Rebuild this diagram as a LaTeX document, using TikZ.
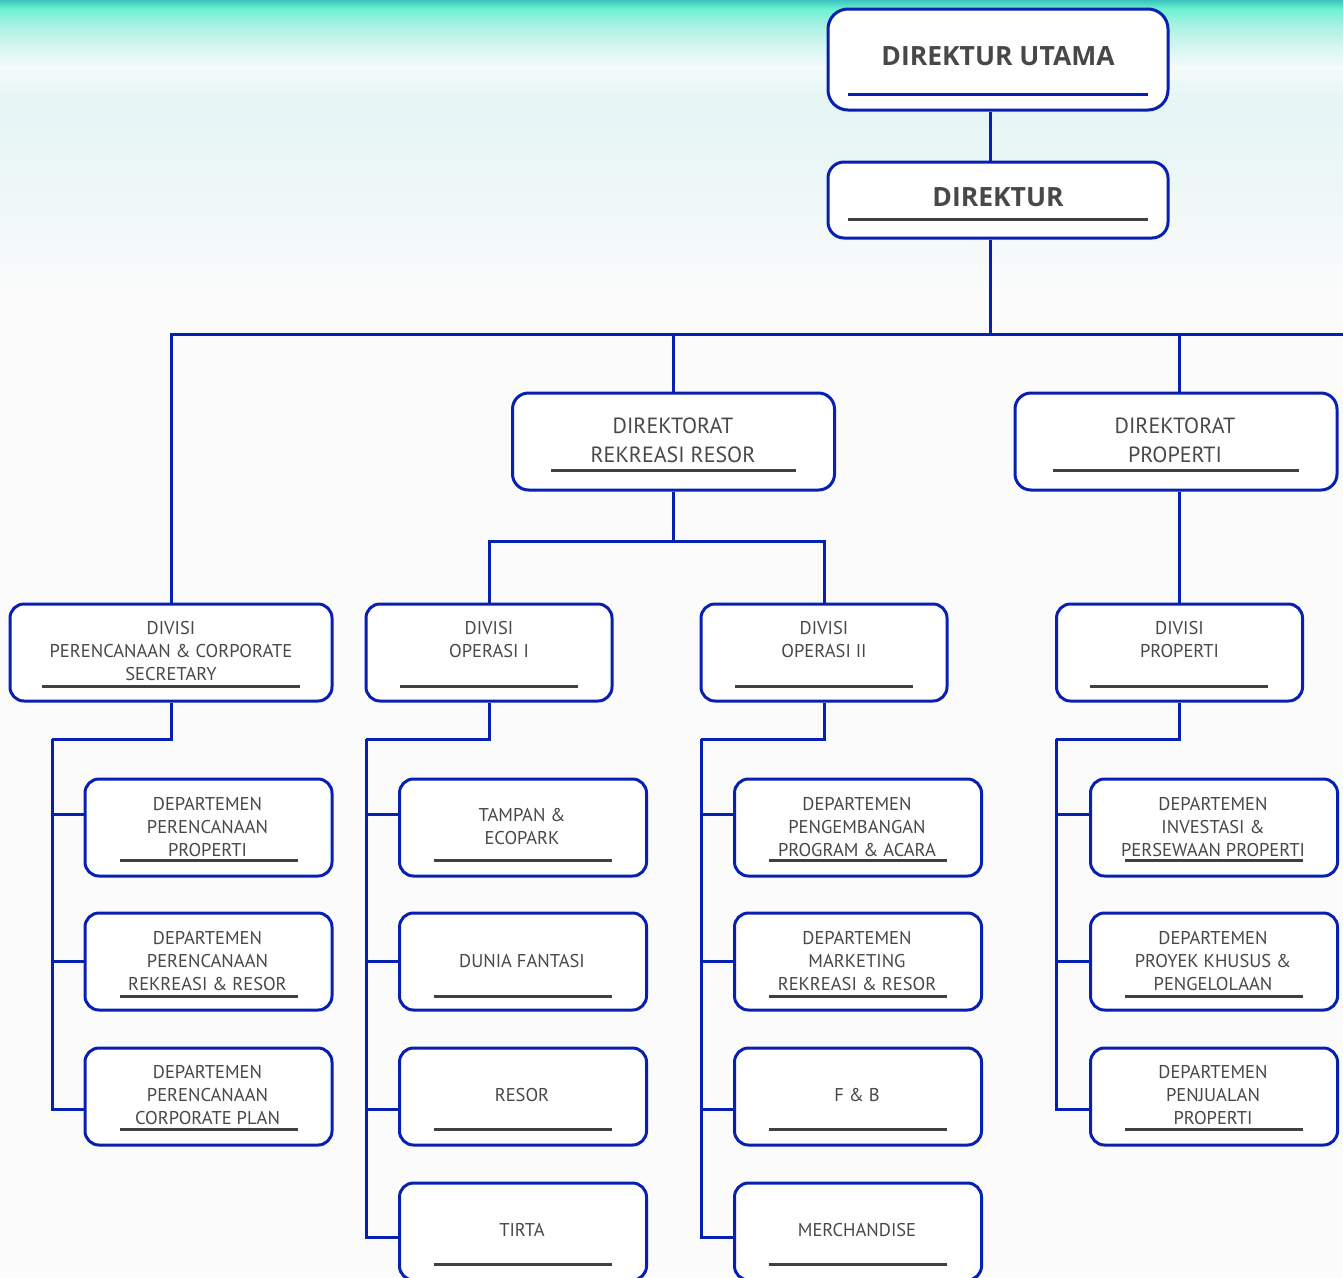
\documentclass[tikz,border=0pt]{standalone}
\usepackage{fontspec}
\setmainfont{PT Sans}
\newfontfamily\boldlabel{Open Sans}
\definecolor{lineblue}{RGB}{8,32,178}
\definecolor{ulgray}{RGB}{64,64,64}
\definecolor{txtgray}{RGB}{72,72,72}
\definecolor{bgA}{RGB}{60,196,190}
\definecolor{bgB}{RGB}{108,242,210}
\definecolor{bgC}{RGB}{165,240,226}
\definecolor{bgD}{RGB}{208,245,238}
\definecolor{bgE}{RGB}{244,251,250}
\definecolor{bgF}{RGB}{228,245,244}
\definecolor{bgG}{RGB}{239,247,247}
\definecolor{bgH}{RGB}{251,251,251}
\tikzset{
  box/.style={draw=lineblue, line width=3pt, rounded corners=14pt, fill=white, inner sep=0pt},
  conn/.style={draw=lineblue, line width=3pt},
  uline/.style={draw=ulgray, line width=3pt},
  small/.style={font=\fontsize{18.5}{23}\selectfont, text=txtgray, align=center, inner sep=0pt},
  midtxt/.style={font=\fontsize{22}{29}\selectfont, text=txtgray, align=center, inner sep=0pt},
  bigtxt/.style={font=\boldlabel\bfseries\fontsize{26.5}{30}\selectfont, text=txtgray, align=center, inner sep=0pt}
}
\newcommand\deptbox[6]{%
  \node[box, minimum width=247pt, minimum height=97pt] (#1) at (#2,{#3+48.5}) {};
  \node[small] (#1t) at ({#2-1},#5) {#4};
  \draw[uline] ({#2-89},#6) -- ({#2+89},#6);
}
\begin{document}
\begin{tikzpicture}[x=1pt,y=-1pt]
\useasboundingbox (0,0) rectangle (1343,1277);
% background
\fill[bgH] (0,0) rectangle (1343,1277);
\shade[top color=bgA, bottom color=bgB] (0,0) rectangle (1343,9);
\shade[top color=bgB, bottom color=bgC] (0,9) rectangle (1343,24);
\shade[top color=bgC, bottom color=bgD] (0,24) rectangle (1343,44);
\shade[top color=bgD, bottom color=bgE] (0,44) rectangle (1343,66);
\shade[top color=bgE, bottom color=bgF] (0,66) rectangle (1343,100);
\shade[top color=bgF, bottom color=bgG] (0,100) rectangle (1343,200);
\shade[top color=bgG, bottom color=bgH] (0,200) rectangle (1343,300);

% coordinates
\coordinate (k) at (990,0);
\coordinate (busend) at (1343,334);
\coordinate (j) at (673,541);
\coordinate (s1) at (52,739);
\coordinate (s2) at (366,739);
\coordinate (s3) at (701,739);
\coordinate (s4) at (1056,739);
\coordinate (r1) at (0,814);
\coordinate (r2) at (0,961);
\coordinate (r3) at (0,1109);
\coordinate (r4) at (0,1237);

% top boxes
\node[box, rounded corners=20pt, minimum width=340pt, minimum height=101pt] (du) at (998,59.5) {};
\node[bigtxt] (dut) at (998,56) {DIREKTUR UTAMA};
\draw[line width=3pt, draw=lineblue] (848,94) -- (1148,94);

\node[box, rounded corners=16pt, minimum width=340pt, minimum height=76pt] (d) at (998,200) {};
\node[bigtxt] (dt) at (998,197) {DIREKTUR};
\draw[uline] (848,219) -- (1148,219);

% directorates
\node[box, rounded corners=16pt, minimum width=322pt, minimum height=97pt] (drr) at (673.5,441.5) {};
\node[midtxt] (drrt) at (673,440.5) {DIREKTORAT\\REKREASI RESOR};
\draw[uline] (551,470) -- (796,470);

\node[box, rounded corners=16pt, minimum width=322pt, minimum height=97pt] (dp) at (1176,441.5) {};
\node[midtxt] (dpt) at (1175,440.5) {DIREKTORAT\\PROPERTI};
\draw[uline] (1053,470) -- (1299,470);

% divisions
\node[box, minimum width=322pt, minimum height=97pt] (v1) at (171,652.5) {};
\node[small] (v1t) at (171,651) {DIVISI\\PERENCANAAN \& CORPORATE\\SECRETARY};
\draw[uline] (42,686) -- (300,686);

\node[box, minimum width=246pt, minimum height=97pt] (v2) at (489,652.5) {};
\node[small] (v2t) at (489,639.5) {DIVISI\\OPERASI I};
\draw[uline] (400,686) -- (578,686);

\node[box, minimum width=246pt, minimum height=97pt] (v3) at (824,652.5) {};
\node[small] (v3t) at (824,639.5) {DIVISI\\OPERASI II};
\draw[uline] (735,686) -- (913,686);

\node[box, minimum width=246pt, minimum height=97pt] (v4) at (1179.5,652.5) {};
\node[small] (v4t) at (1179.5,639.5) {DIVISI\\PROPERTI};
\draw[uline] (1090,686) -- (1268,686);

% departments
\deptbox{d11}{208.5}{779}{DEPARTEMEN\\PERENCANAAN\\PROPERTI}{827}{860}
\deptbox{d12}{208.5}{913}{DEPARTEMEN\\PERENCANAAN\\REKREASI \& RESOR}{961}{996}
\deptbox{d13}{208.5}{1048}{DEPARTEMEN\\PERENCANAAN\\CORPORATE PLAN}{1095}{1129}

\deptbox{d21}{523}{779}{TAMPAN \&\\ECOPARK}{826.5}{860}
\deptbox{d22}{523}{913}{DUNIA FANTASI}{961}{996}
\deptbox{d23}{523}{1048}{RESOR}{1095}{1129}
\deptbox{d24}{523}{1183}{TIRTA}{1230}{1264}

\deptbox{d31}{858}{779}{DEPARTEMEN\\PENGEMBANGAN\\PROGRAM \& ACARA}{827}{860}
\deptbox{d32}{858}{913}{DEPARTEMEN\\MARKETING\\REKREASI \& RESOR}{961}{996}
\deptbox{d33}{858}{1048}{F \& B}{1095}{1129}
\deptbox{d34}{858}{1183}{MERCHANDISE}{1230}{1264}

\deptbox{d41}{1214}{779}{DEPARTEMEN\\INVESTASI \&\\PERSEWAAN PROPERTI}{827}{860}
\deptbox{d42}{1214}{913}{DEPARTEMEN\\PROYEK KHUSUS \&\\PENGELOLAAN}{961}{996}
\deptbox{d43}{1214}{1048}{DEPARTEMEN\\PENJUALAN\\PROPERTI}{1095}{1129}

% connectors
\draw[conn] (du.south -| k) -- (d.north -| k);
\draw[conn] (d.south -| k) -- (k |- busend);
\draw[conn] (v1.north) |- (busend);
\draw[conn] (drr.north -| j) -- (j |- busend);
\draw[conn] (dp.north -| v4.north) -- (v4.north |- busend);
\draw[conn] (drr.south -| j) -- (j);
\draw[conn] (v2.north) |- (j) -| (v3.north);
\draw[conn] (dp.south -| v4.north) -- (v4.north);

\draw[conn] (v1.south) |- (s1);
\draw[conn] (v2.south) |- (s2);
\draw[conn] (v3.south) |- (s3);
\draw[conn] (v4.south) |- (s4);

\draw[conn] (d11.west |- r1) -| (s1);
\draw[conn] (d12.west |- r2) -| (s1);
\draw[conn] (d13.west |- r3) -| (s1);
\draw[conn] (d21.west |- r1) -| (s2);
\draw[conn] (d22.west |- r2) -| (s2);
\draw[conn] (d23.west |- r3) -| (s2);
\draw[conn] (d24.west |- r4) -| (s2);
\draw[conn] (d31.west |- r1) -| (s3);
\draw[conn] (d32.west |- r2) -| (s3);
\draw[conn] (d33.west |- r3) -| (s3);
\draw[conn] (d34.west |- r4) -| (s3);
\draw[conn] (d41.west |- r1) -| (s4);
\draw[conn] (d42.west |- r2) -| (s4);
\draw[conn] (d43.west |- r3) -| (s4);
\end{tikzpicture}
\end{document}
